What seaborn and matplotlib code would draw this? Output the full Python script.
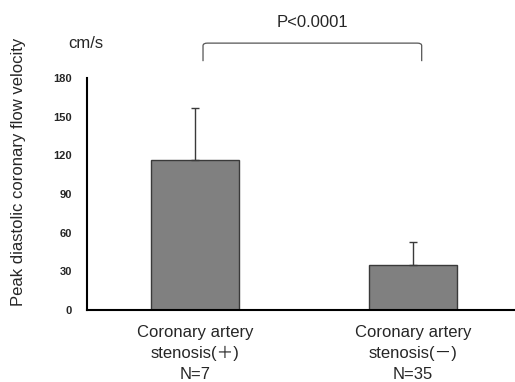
import numpy as np
import pandas as pd
import matplotlib
matplotlib.use("Agg")
import matplotlib.pyplot as plt
import seaborn as sns
from matplotlib.path import Path
from matplotlib.patches import PathPatch

groups = ["Coronary artery\nstenosis(\uff0b)\nN=7", "Coronary artery\nstenosis(\uff0d)\nN=35"]
means = [116, 35]
sds = [41, 18]
yticks = [0, 30, 60, 90, 120, 150, 180]

sns.set_style("white")
plt.rcParams["font.family"] = ["Liberation Sans", "Noto Sans CJK JP", "DejaVu Sans"]

df = pd.DataFrame({"group": groups, "velocity": means})

fig = plt.figure(figsize=(5.15, 3.82), dpi=100)
ax = fig.add_axes([0.169, 0.1885, 0.831, 0.6075])

sns.barplot(data=df, x="group", y="velocity", color="#808080", width=0.4,
            edgecolor="#3a3a3a", linewidth=1, saturation=1, ax=ax)
ax.errorbar(range(len(means)), means, yerr=[np.zeros(len(sds)), sds],
            fmt="none", ecolor="#3a3a3a", elinewidth=1, capsize=3, capthick=1)

ax.set_ylim(0, 180)
ax.set_xlim(-0.495, 1.468)
ax.set_yticks(yticks)
ax.set_yticklabels([str(t) for t in yticks], fontsize=8, fontweight="bold")
ax.tick_params(axis="y", direction="out", length=4, width=1.5, color="black", pad=7)
ax.tick_params(axis="x", length=0, pad=11, labelsize=12)
for lab in ax.get_xticklabels():
    lab.set_linespacing(1.5)
ax.set_xlabel("")
ax.set_ylabel("")
for s in ["top", "right"]:
    ax.spines[s].set_visible(False)
for s in ["left", "bottom"]:
    ax.spines[s].set_linewidth(1.5)
    ax.spines[s].set_color("black")

# significance bracket
y_low, y_high = 193, 207
x0, x1 = 0.037, 1.04
r = 0.02
verts = [(x0, y_low), (x0, y_high - 2), (x0, y_high), (x0 + r, y_high),
         (x1 - r, y_high), (x1, y_high), (x1, y_high - 2), (x1, y_low)]
codes = [Path.MOVETO, Path.LINETO, Path.CURVE3, Path.CURVE3,
         Path.LINETO, Path.CURVE3, Path.CURVE3, Path.LINETO]
ax.add_patch(PathPatch(Path(verts, codes), fill=False, edgecolor="#555555",
                       linewidth=0.9, clip_on=False))
ax.text((x0 + x1) / 2, 223, "P<0.0001", ha="center", va="center", fontsize=12)

fig.text(0.167, 0.887, "cm/s", ha="center", va="center", fontsize=12)
fig.text(0.036, 0.55, "Peak diastolic coronary flow velocity", rotation=90,
         ha="center", va="center", fontsize=12)

fig.savefig("out.png", dpi=100)
